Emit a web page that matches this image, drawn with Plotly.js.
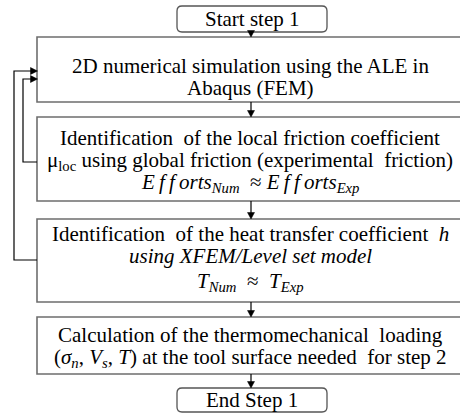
<!DOCTYPE html>
<html><head><meta charset="utf-8">
<script src="https://cdn.plot.ly/plotly-3.0.1.min.js"></script>
<style>html,body{margin:0;padding:0;background:#fff}</style>
</head><body>
<div id="chart" style="width:460px;height:414px"></div>
<script>
// Flowchart content
const stepLabels = ["Start step 1", "End Step 1"];
const box1Lines = ["2D numerical simulation using the ALE in", "Abaqus (FEM)"];
const box2Lines = ["Identification  of the local friction coefficient",
  "μ<sub>loc</sub> using global friction (experimental  friction)",
  "<i>E\u2009f\u2009f\u2009orts</i><sub><i>Num</i></sub>  ≈ <i>E\u2009f\u2009f\u2009orts</i><sub><i>Exp</i></sub>"];
const box3Lines = ["Identification  of the heat transfer coefficient  <i>h</i>",
  "<i>using XFEM/Level set model</i>",
  "<i>T</i><sub><i>Num</i></sub>  ≈  <i>T</i><sub><i>Exp</i></sub>"];
const box4Lines = ["Calculation of the thermomechanical  loading",
  "(<i>σ</i><sub><i>n</i></sub>, <i>V</i><sub><i>s</i></sub>, <i>T</i>) at the tool surface needed  for step 2"];

// geometry (layout)
const boxes = [
  {x0:177,x1:327,y0:6,y1:32,round:true,lines:[stepLabels[0]],ys:[19]},
  {x0:37,x1:463,y0:37,y1:102,lines:box1Lines,ys:[66,88]},
  {x0:37,x1:463,y0:117,y1:201,lines:box2Lines,ys:[138,161,183]},
  {x0:37,x1:463,y0:219,y1:302,lines:box3Lines,ys:[234,256,282]},
  {x0:37,x1:463,y0:317,y1:374,lines:box4Lines,ys:[335,358]},
  {x0:177,x1:327,y0:388,y1:412,round:true,lines:[stepLabels[1]],ys:[400]}
];
const FONT = 'Liberation Serif';
const shapes = [];
const annotations = [];
const border = {color:'#6e6e6e', width:1.6};
function rrect(b, r){
  return `M ${b.x0+r} ${b.y0} H ${b.x1-r} Q ${b.x1} ${b.y0} ${b.x1} ${b.y0+r} V ${b.y1-r} Q ${b.x1} ${b.y1} ${b.x1-r} ${b.y1} H ${b.x0+r} Q ${b.x0} ${b.y1} ${b.x0} ${b.y1-r} V ${b.y0+r} Q ${b.x0} ${b.y0} ${b.x0+r} ${b.y0} Z`;
}
boxes.forEach(b=>{
  if(b.round){
    shapes.push({type:'path',path:rrect(b,5),xref:'x',yref:'y',line:{color:'#555',width:1.3},fillcolor:'#fff',layer:'below'});
  } else {
    shapes.push({type:'rect',x0:b.x0,x1:b.x1,y0:b.y0,y1:b.y1,xref:'x',yref:'y',line:border,fillcolor:'#fff',layer:'below'});
  }
  b.lines.forEach((t,i)=>{
    annotations.push({x:(b.round?252:250),y:b.ys[i],xref:'x',yref:'y',text:t,showarrow:false,
      xanchor:'center',yanchor:'middle',font:{family:FONT,size:21,color:'#000'}});
  });
});
const ink = {color:'#000',width:1.2};
function downArrow(x, yFrom, yTo){
  shapes.push({type:'line',x0:x,x1:x,y0:yFrom,y1:yTo-5,xref:'x',yref:'y',line:ink});
  shapes.push({type:'path',path:`M ${x} ${yTo} L ${x-3.5} ${yTo-6.5} L ${x+3.5} ${yTo-6.5} Z`,xref:'x',yref:'y',fillcolor:'#000',line:{color:'#000',width:0.5}});
}
function rightHead(x, y){
  shapes.push({type:'path',path:`M ${x} ${y} L ${x-7} ${y-3.5} L ${x-7} ${y+3.5} Z`,xref:'x',yref:'y',fillcolor:'#000',line:{color:'#000',width:0.5}});
}
// down arrows between boxes
for(let i=0;i<boxes.length-1;i++) downArrow(251, boxes[i].y1, boxes[i+1].y0);
// feedback loops
shapes.push({type:'path',path:'M 37 260 H 14 V 71 H 32',xref:'x',yref:'y',line:ink});
shapes.push({type:'path',path:'M 37 162 H 23 V 79 H 32',xref:'x',yref:'y',line:ink});
rightHead(37.5, 71);
rightHead(37.5, 79);

const layout = {
  width:460,height:414,margin:{l:0,r:0,t:0,b:0},
  paper_bgcolor:'#fff',plot_bgcolor:'#fff',
  xaxis:{range:[0,460],visible:false,fixedrange:true},
  yaxis:{range:[414,0],visible:false,fixedrange:true},
  shapes:shapes,annotations:annotations,showlegend:false
};
Plotly.newPlot('chart',[],layout,{staticPlot:true,displayModeBar:false});
</script>
</body></html>
